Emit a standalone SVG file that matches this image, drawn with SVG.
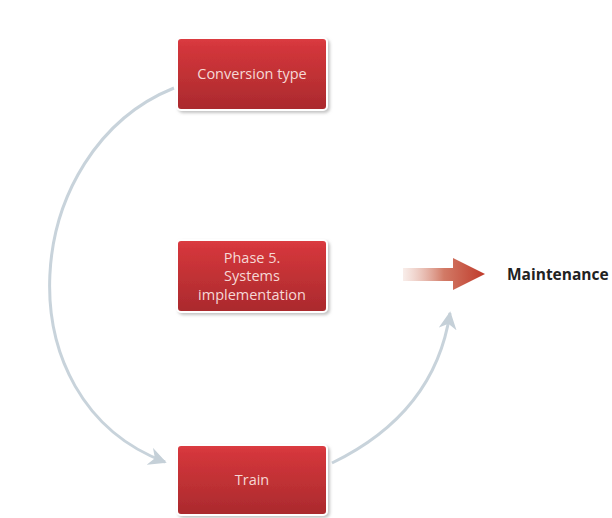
<svg xmlns="http://www.w3.org/2000/svg" width="612" height="518" viewBox="0 0 612 518">
<defs>
<linearGradient id="boxg" x1="0" y1="0" x2="0" y2="1">
<stop offset="0" stop-color="#dc3c42"/>
<stop offset="0.12" stop-color="#d3363b"/>
<stop offset="1" stop-color="#aa2a2d"/>
</linearGradient>
<linearGradient id="arrg" x1="0" y1="0" x2="1" y2="0">
<stop offset="0" stop-color="#f4e2dc" stop-opacity="0.6"/>
<stop offset="0.5" stop-color="#d27a66"/>
<stop offset="1" stop-color="#bf3a2a"/>
</linearGradient>
<filter id="sh" x="-10%" y="-10%" width="125%" height="130%">
<feDropShadow dx="2" dy="2" stdDeviation="1.5" flood-color="#888" flood-opacity="0.5"/>
</filter>
<marker id="ah" viewBox="0 0 10 10" refX="9" refY="5" markerWidth="6" markerHeight="6" orient="auto" markerUnits="strokeWidth">
<path d="M0,0 L10,5 L0,10 L3,5 Z" fill="#c5d0d8"/>
</marker>
<style>
.box{fill:url(#boxg);stroke:#ffffff;stroke-width:2;filter:url(#sh)}
.lbl{font-family:"Open Sans","Lato",sans-serif;font-size:14.5px;fill:#f6d8d6;text-anchor:middle}
.con{fill:none;stroke:#c8d3db;stroke-width:3;marker-end:url(#ah)}
</style>
</defs>
<rect width="612" height="518" fill="#ffffff"/>
<g id="connectors">
<path class="con" d="M174 88 C20 150, 0 400, 165 462"/>
<path class="con" d="M332 463 C400 430, 440 380, 450 313"/>
</g>
<g id="node-conversion">
<rect class="box" x="177" y="38" width="150" height="72" rx="4"/>
<text class="lbl" x="252" y="79">Conversion type</text>
</g>
<g id="node-phase5">
<rect class="box" x="177" y="240" width="150" height="72" rx="4"/>
<text class="lbl" x="252" y="263">Phase 5.</text>
<text class="lbl" x="252" y="281">Systems</text>
<text class="lbl" x="252" y="300">implementation</text>
</g>
<g id="node-train">
<rect class="box" x="177" y="445" width="150" height="70" rx="4"/>
<text class="lbl" x="252" y="485">Train</text>
</g>
<g id="maintenance">
<path d="M403 268 L453 268 L453 258 L485 274 L453 290 L453 281 L403 281 Z" fill="url(#arrg)"/>
<text x="507" y="280" font-family="'Open Sans','Lato',sans-serif" font-size="15.5" font-weight="bold" fill="#222">Maintenance</text>
</g>
</svg>
